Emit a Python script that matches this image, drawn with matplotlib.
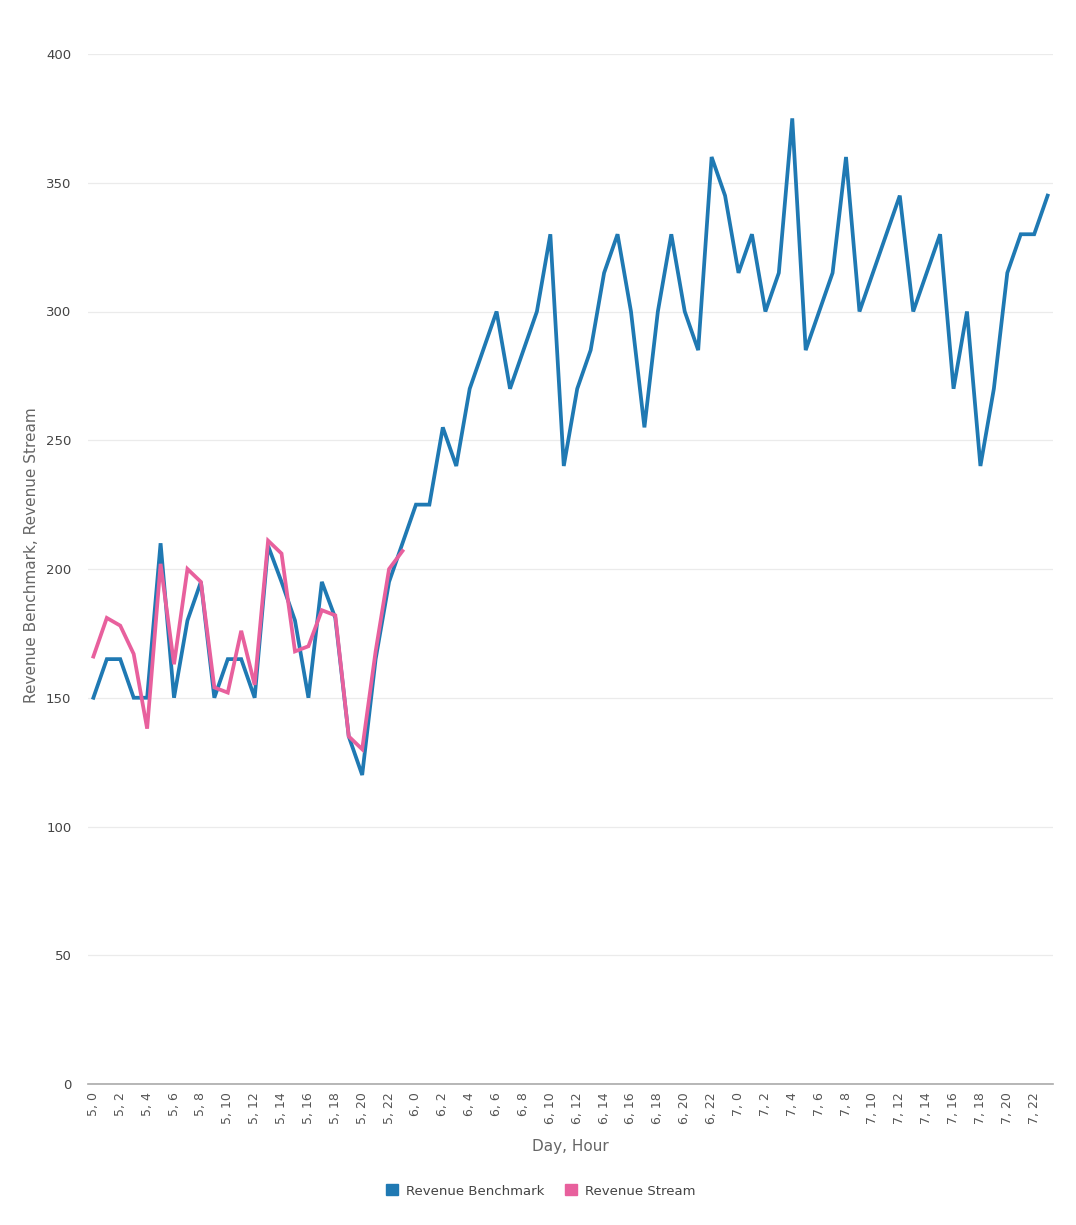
import matplotlib
matplotlib.use("Agg")
import matplotlib.pyplot as plt
from matplotlib.patches import Patch

plt.rcParams['font.family'] = ['DejaVu Sans']

days = [5] * 24 + [6] * 24 + [7] * 24
hours = list(range(24)) * 3
categories = [f"{d}, {h}" for d, h in zip(days, hours)]

benchmark = [150, 165, 165, 150, 150, 210, 150, 180, 195, 150, 165, 165,
             150, 209, 195, 180, 150, 195, 181, 135, 120, 165, 195, 210,
             225, 225, 255, 240, 270, 285, 300, 270, 285, 300, 330, 240,
             270, 285, 315, 330, 300, 255, 300, 330, 300, 285, 360, 345,
             315, 330, 300, 315, 375, 285, 300, 315, 360, 300, 315, 330,
             345, 300, 315, 330, 270, 300, 240, 270, 315, 330, 330, 345]

stream = [166, 181, 178, 167, 138, 202, 163, 200, 195, 154, 152, 176,
          155, 211, 206, 168, 170, 184, 182, 135, 130, 168, 200, 207]

blue = '#1f79b3'
pink = '#e8609d'

fig = plt.figure(figsize=(10.76, 12.25), dpi=100)
ax = fig.add_axes([88 / 1076, 1 - 1084 / 1225, (1053 - 88) / 1076, (1084 - 54) / 1225])

x = list(range(len(categories)))
ax.plot(x, benchmark, color=blue, lw=2.7, solid_joinstyle='miter', zorder=3)
ax.plot(x[:len(stream)], stream, color=pink, lw=2.7, solid_joinstyle='miter', zorder=4)

ax.set_ylim(0, 400)
ax.set_xlim(-0.4, len(categories) - 0.6)
ax.set_yticks([0, 50, 100, 150, 200, 250, 300, 350, 400])
ax.set_xticks(x[::2])
ax.set_xticklabels(categories[::2], rotation=90, fontsize=9, color='#555555')
ax.tick_params(axis='y', labelsize=9.5, labelcolor='#444444', length=0, pad=12)
ax.tick_params(axis='x', length=0, pad=6)

ax.grid(axis='y', color='#ebebeb', lw=0.9)
ax.set_axisbelow(True)
for s in ['top', 'right', 'left']:
    ax.spines[s].set_visible(False)
ax.spines['bottom'].set_color('#aaaaaa')
ax.spines['bottom'].set_linewidth(1.2)
ax.spines['bottom'].set_zorder(5)

fig.text(570 / 1076, 1 - 1146 / 1225, 'Day, Hour', ha='center', va='center',
         fontsize=11, color='#666666')
fig.text(32 / 1076, 1 - 555 / 1225, 'Revenue Benchmark, Revenue Stream', ha='center',
         va='center', rotation=90, fontsize=11, color='#666666')

handles = [Patch(facecolor=blue, edgecolor=blue, label='Revenue Benchmark'),
           Patch(facecolor=pink, edgecolor=pink, label='Revenue Stream')]
fig.legend(handles=handles, loc='center', bbox_to_anchor=(541 / 1076, 1 - 1191 / 1225),
           ncol=2, frameon=False, fontsize=9.5, handlelength=0.9, handleheight=0.9,
           handletextpad=0.6, columnspacing=1.6, labelcolor='#444444')

fig.savefig('out.png', dpi=100, facecolor='white')
